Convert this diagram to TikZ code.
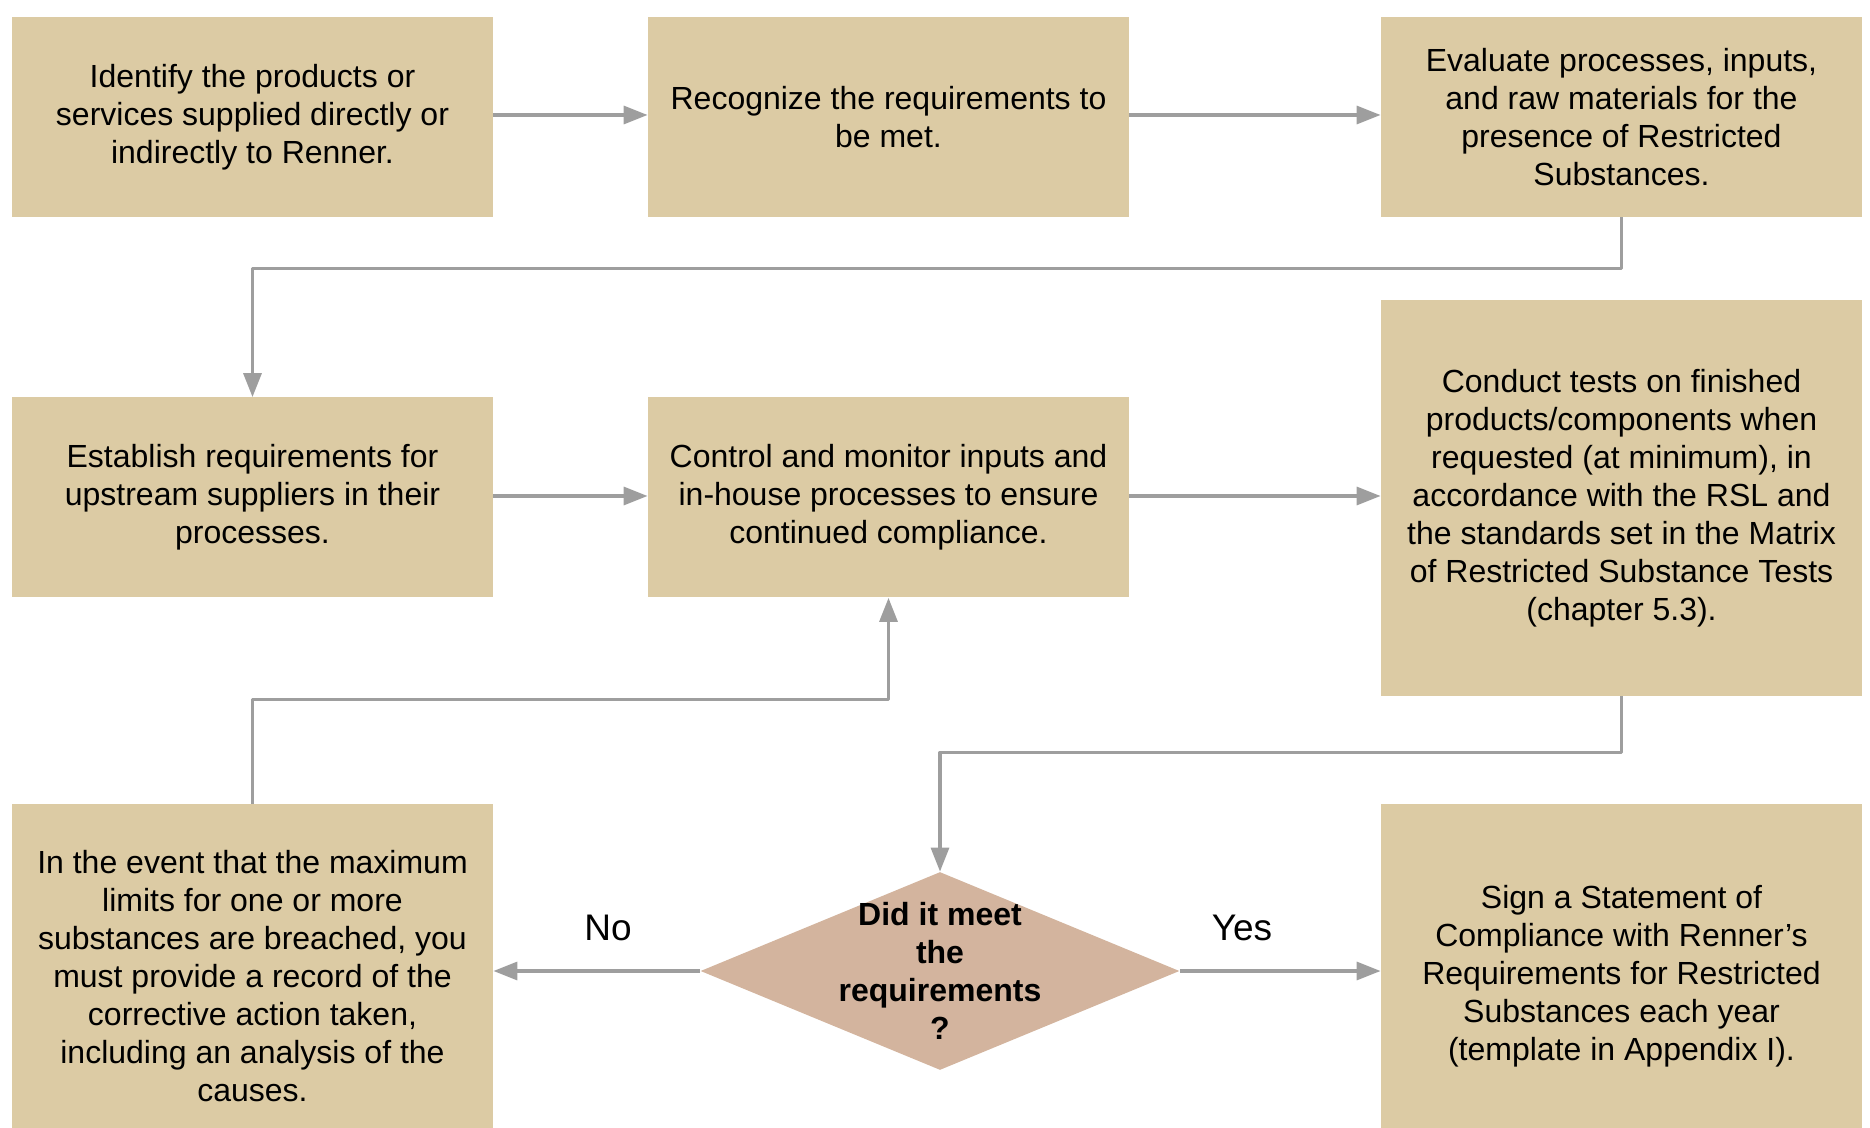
\documentclass[tikz,border=0pt]{standalone}
\usepackage{fontspec}
\setmainfont{Liberation Sans}
\usetikzlibrary{arrows.meta, shapes.geometric}
\definecolor{StepTan}{HTML}{DCCBA4}
\definecolor{CheckRose}{HTML}{D3B49E}
\definecolor{LinkGray}{HTML}{9E9E9E}

\begin{document}
\begin{tikzpicture}[
      x=0.5pt, y=-0.5pt,
      box/.style={fill=StepTan, minimum width=240.5pt, minimum height=100pt, inner sep=0pt, align=center, font=\fontsize{16}{19}\selectfont},
      decision/.style={diamond, fill=CheckRose, minimum width=239.5pt, minimum height=99pt, inner sep=0pt},
      qtext/.style={align=center, font=\fontsize{16}{19}\selectfont\bfseries},
      lbl/.style={font=\fontsize{18.5}{22}\selectfont},
      link/.style={-{Triangle[length=12pt, width=9pt]}, line width=1.6pt, LinkGray, line join=round}
    ]
      \useasboundingbox (0,0) rectangle (1870,1128);
      % top row
      \node[box] (ident) at (252.5,117) {Identify the products or\\services supplied directly or\\indirectly to Renner.};
      \node[box] (recog) at (888.5,117) {Recognize the requirements to\\be met.};
      \node[box] (evalu) at (1621.5,117) {Evaluate processes, inputs,\\and raw materials for the\\presence of Restricted\\Substances.};
      % middle row
      \node[box] (estab) at (252.5,497.5) {Establish requirements for\\upstream suppliers in their\\processes.};
      \node[box] (control) at (888.5,497.5) {Control and monitor inputs and\\in-house processes to ensure\\continued compliance.};
      \node[box, minimum height=198pt] (tests) at (1621.5,498) {Conduct tests on finished\\products/components when\\requested (at minimum), in\\accordance with the RSL and\\the standards set in the Matrix\\of Restricted Substance Tests\\(chapter 5.3).};
      % bottom row
      \node[box, minimum height=172pt] (event) at (252.5,976) {In the event that the maximum\\limits for one or more\\substances are breached, you\\must provide a record of the\\corrective action taken,\\including an analysis of the\\causes.};
      \node[decision] (check) at (940,971) {};
      \node[qtext] (checktext) at (check.center) {Did it meet\\the\\requirements\\?};
      \node[box, minimum height=172pt] (sign) at (1621.5,976) {Sign a Statement of\\Compliance with Renner’s\\Requirements for Restricted\\Substances each year\\(template in Appendix I).};
      \node[lbl] (no) at (608,928) {No};
      \node[lbl] (yes) at (1242,928) {Yes};
      % connectors
      \draw[link] (ident.east |- 0,115) -- (recog.west |- 0,115);
      \draw[link] (recog.east |- 0,115) -- (evalu.west |- 0,115);
      \draw[link] (evalu.south) -- ++(0,51) -| (estab.north);
      \draw[link] (estab.east |- 0,496) -- (control.west |- 0,496);
      \draw[link] (control.east |- 0,496) -- (tests.west |- 0,496);
      \draw[link] (tests.south) -- ++(0,56) -| (check.north);
      \draw[link] (event.north) -- ++(0,-104) -| (control.south);
      \draw[link] (check.west) -- (check.west -| event.east);
      \draw[link] (check.east) -- (check.east -| sign.west);
    \end{tikzpicture}
\end{document}
